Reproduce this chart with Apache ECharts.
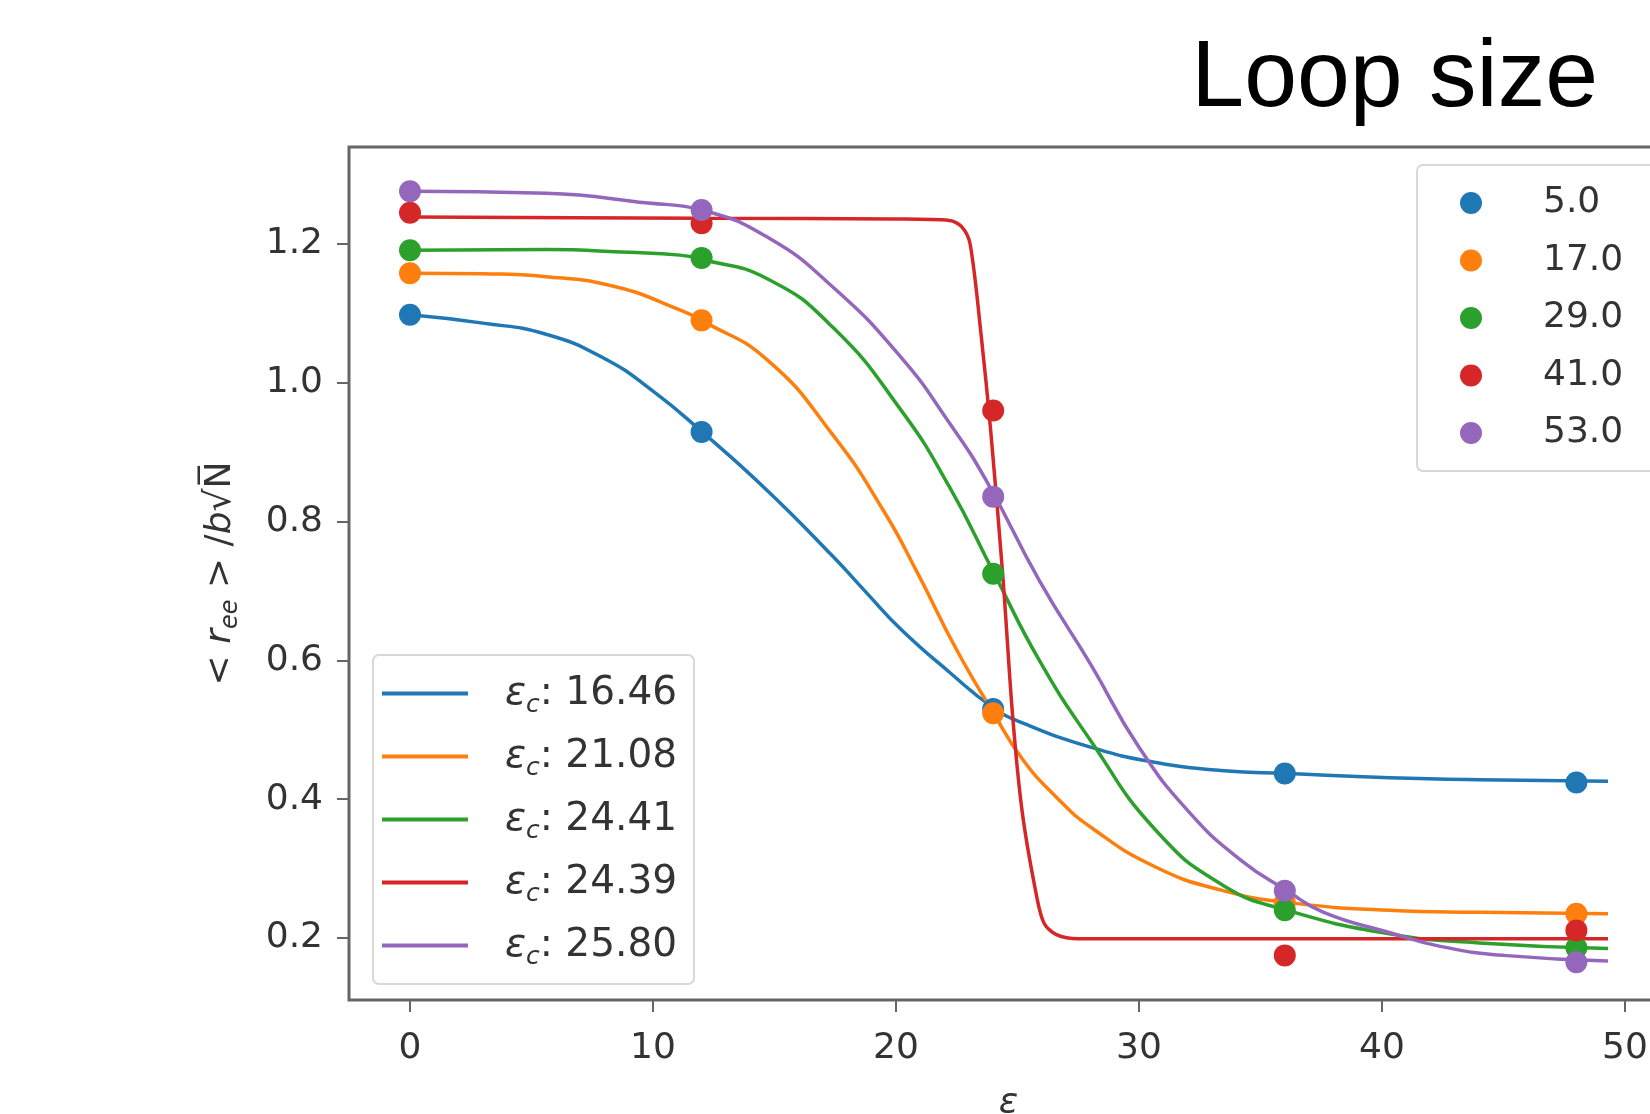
<!DOCTYPE html>
<html>
<head>
<meta charset="utf-8">
<script src="https://cdn.jsdelivr.net/npm/echarts@6/dist/echarts.min.js"></script>
<title>Loop size</title>
</head>
<body style="margin:0">
<div id="container" style="width:1650px;height:1114px"></div>
<script>
// measured points (x = epsilon)
const xPts = [0, 12, 24, 36, 48];
const loopSizes = ['5.0', '17.0', '29.0', '41.0', '53.0'];
const epsC = ['16.46', '21.08', '24.41', '24.39', '25.80'];
const colors = ['#1f77b4', '#ff7f0e', '#2ca02c', '#d62728', '#9467bd'];

const pts5 = [1.098, 0.929, 0.530, 0.437, 0.424];
const pts17 = [1.158, 1.090, 0.524, 0.251, 0.235];
const pts29 = [1.191, 1.180, 0.725, 0.240, 0.186];
const pts41 = [1.245, 1.230, 0.960, 0.175, 0.211];
const pts53 = [1.276, 1.249, 0.836, 0.268, 0.165];

// fitted curves as [eps, value]
const fit5 = [[0,1.098],[3,1.086],[5.6,1.07],[8,1.035],[10,0.988],[12,0.930],[14.7,0.845],[17.4,0.750],[18.8,0.697],[20.2,0.645],[22.2,0.583],[24,0.532],[25.2,0.510],[28,0.475],[30.7,0.453],[33.5,0.441],[36.1,0.437],[40.3,0.431],[44,0.428],[49.3,0.426]];
const fit17 = [[0,1.158],[3,1.157],[5.6,1.153],[8.5,1.138],[11.1,1.105],[12,1.090],[14.7,1.033],[17.4,0.925],[19.5,0.815],[20.9,0.725],[22.5,0.615],[24,0.525],[25.2,0.458],[26.6,0.403],[28,0.360],[30.7,0.302],[33.5,0.268],[36.2,0.251],[40.3,0.240],[44,0.237],[49.3,0.235]];
const fit29 = [[0,1.191],[5.6,1.192],[9,1.188],[11.1,1.184],[12,1.178],[14.7,1.150],[17.4,1.080],[20.2,0.961],[22.2,0.850],[24,0.728],[25.9,0.600],[28,0.485],[30.7,0.355],[33.5,0.275],[36.1,0.240],[40.3,0.206],[44,0.193],[49.3,0.185]];
const fit41 = [[0,1.239],[12,1.237],[20,1.236],[22.2,1.234],[22.7,1.225],[23.05,1.200],[23.5,1.070],[23.9,0.930],[24.4,0.720],[24.8,0.520],[25.2,0.380],[25.8,0.258],[26.1,0.221],[26.6,0.205],[27.5,0.199],[36,0.199],[49.3,0.199]];
const fit53 = [[0,1.276],[5.6,1.273],[9.8,1.259],[12,1.249],[14.7,1.210],[17.4,1.138],[20.2,1.037],[22.2,0.942],[23.7,0.860],[25.9,0.715],[28,0.595],[30,0.475],[32.1,0.380],[34.2,0.312],[36.1,0.268],[37.6,0.237],[40.3,0.208],[42.4,0.188],[45,0.175],[49.3,0.167]];

const xTicks = [0, 10, 20, 30, 40, 50];
const yTicks = [0.2, 0.4, 0.6, 0.8, 1.0, 1.2];

const allPts = [pts5, pts17, pts29, pts41, pts53];
const allFits = [fit5, fit17, fit29, fit41, fit53];
const lineNames = epsC.map(v => 'εc: ' + v);

const font = 'DejaVu Sans';
const fs = 36;
const axisGrey = '#666';

let series = [];
allFits.forEach((f, i) => {
    series.push({
        name: lineNames[i],
        type: 'line',
        data: f,
        symbol: 'none',
        smooth: i === 3 ? 0.3 : 0.5,
        lineStyle: {color: colors[i], width: 3.5},
        itemStyle: {color: colors[i]},
        z: 2
    });
});
allPts.forEach((p, i) => {
    series.push({
        name: loopSizes[i],
        type: 'scatter',
        data: p.map((v, k) => [xPts[k], v]),
        symbolSize: 22,
        itemStyle: {color: colors[i], opacity: 1},
        z: 3
    });
});

let chart = echarts.init(document.getElementById('container'));
chart.setOption({
    animation: false,
    backgroundColor: '#fff',
    title: {
        text: 'Loop size',
        right: 52,
        top: 32,
        padding: 0,
        textStyle: {fontFamily: 'Liberation Sans', fontSize: 95, fontWeight: 'normal', color: '#000'}
    },
    grid: {
        left: 349, top: 147, width: 1319, height: 853,
        containLabel: false,
        outerBoundsMode: 'none',
        show: true, borderColor: axisGrey, borderWidth: 3, backgroundColor: 'transparent'
    },
    xAxis: {
        type: 'value',
        min: -2.51, max: 51.77,
        name: 'ε',
        nameLocation: 'middle',
        nameGap: 86,
        nameTextStyle: {fontFamily: font, fontSize: fs, fontStyle: 'italic', color: '#333'},
        axisLine: {show: false, onZero: false},
        splitLine: {show: false},
        axisTick: {show: true, customValues: xTicks, length: 12, lineStyle: {color: axisGrey, width: 2}},
        axisLabel: {customValues: xTicks, margin: 31, fontFamily: font, fontSize: fs, color: '#333',
            formatter: v => String(Math.round(v))}
    },
    yAxis: {
        type: 'value',
        min: 0.1107, max: 1.3398,
        name: '{n|< }{i|r}{sub|ee}{n| > /}{i|b}{n|√N̅}',
        nameLocation: 'middle',
        nameGap: 106,
        nameTextStyle: {
            fontFamily: font, fontSize: fs, color: '#333',
            rich: {
                n: {fontFamily: font, fontSize: fs, color: '#333'},
                i: {fontFamily: font, fontSize: fs, fontStyle: 'italic', color: '#333'},
                sub: {fontFamily: font, fontSize: 24, fontStyle: 'italic', color: '#333', padding: [20, 0, 0, 0]}
            }
        },
        axisLine: {show: false, onZero: false},
        splitLine: {show: false},
        axisTick: {show: true, customValues: yTicks, length: 12, lineStyle: {color: axisGrey, width: 2}},
        axisLabel: {customValues: yTicks, margin: 26, fontFamily: font, fontSize: fs, color: '#333',
            formatter: v => v.toFixed(1)}
    },
    legend: [
        {
            data: loopSizes,
            orient: 'vertical',
            left: 1417, top: 165,
            padding: [20, 40, 20, 43],
            itemGap: 21.5,
            itemWidth: 22, itemHeight: 22,
            icon: 'circle',
            backgroundColor: 'rgba(255,255,255,0.85)',
            borderColor: '#d8d8d8', borderWidth: 2, borderRadius: 6,
            formatter: name => '{a|' + name + '}',
            textStyle: {
                rich: {a: {fontFamily: font, fontSize: fs, lineHeight: 30, color: '#333', padding: [0, 0, 0, 56]}}
            }
        },
        {
            data: lineNames,
            orient: 'vertical',
            left: 373, top: 655,
            padding: [14, 17, 14, 9],
            itemGap: 14,
            itemWidth: 86, itemHeight: 4,
            icon: 'rect',
            backgroundColor: 'rgba(255,255,255,0.85)',
            borderColor: '#d8d8d8', borderWidth: 2, borderRadius: 6,
            formatter: name => '{e|ε}{s|c}{t|' + name.slice(2) + '}',
            textStyle: {
                rich: {
                    e: {fontFamily: font, fontSize: 39, fontStyle: 'italic', lineHeight: 30, color: '#333', padding: [0, 0, 0, 32]},
                    s: {fontFamily: font, fontSize: 25, fontStyle: 'italic', lineHeight: 22, color: '#333', padding: [24, 0, 0, 0]},
                    t: {fontFamily: font, fontSize: 39, lineHeight: 30, color: '#333'}
                }
            }
        }
    ],
    series: series
});
</script>
</body>
</html>
